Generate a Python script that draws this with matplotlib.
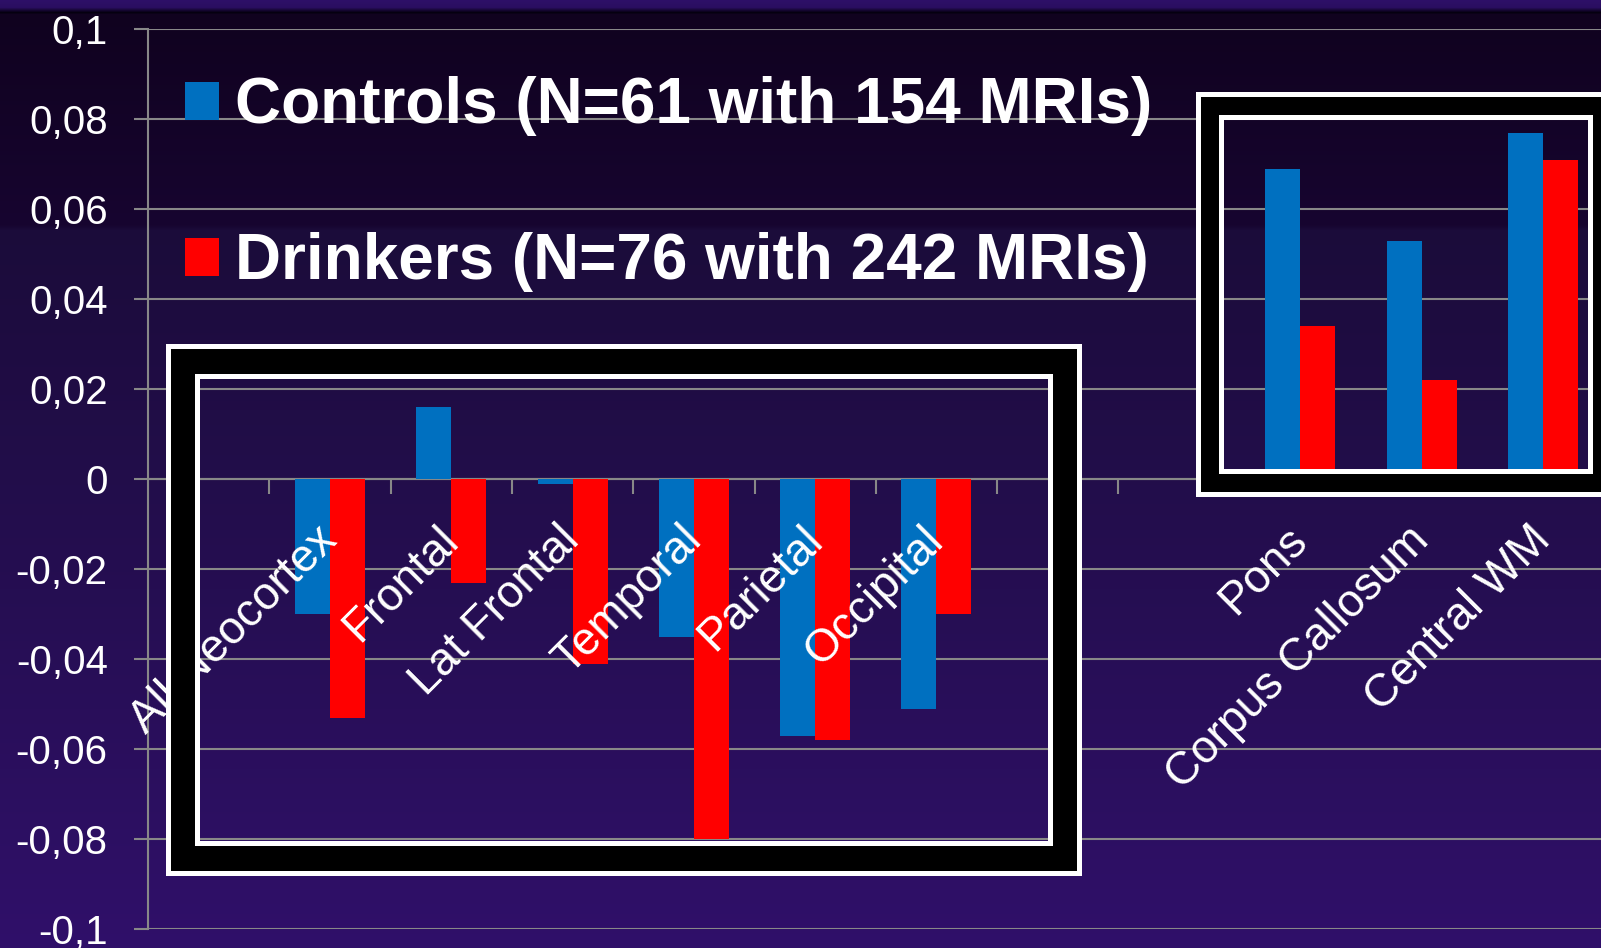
import numpy as np
import matplotlib
matplotlib.use('Agg')
import matplotlib.pyplot as plt
from matplotlib.patches import Patch, PathPatch
from matplotlib.path import Path
from matplotlib.colors import to_rgb

# regional change per year, controls vs drinkers
categories = ['', 'All Neocortex', 'Frontal', 'Lat Frontal', 'Temporal', 'Parietal',
              'Occipital', '', '', 'Pons', 'Corpus Callosum', 'Central WM']
controls = [np.nan, -0.030, 0.016, -0.001, -0.035, -0.057, -0.051,
            np.nan, np.nan, 0.069, 0.053, 0.077]
drinkers = [np.nan, -0.053, -0.023, -0.041, -0.080, -0.058, -0.030,
            np.nan, np.nan, 0.034, 0.022, 0.071]
series_names = ['Controls (N=61 with 154 MRIs)', 'Drinkers (N=76 with 242 MRIs)']
ytick_vals = [-0.1, -0.08, -0.06, -0.04, -0.02, 0, 0.02, 0.04, 0.06, 0.08, 0.1]
ytick_text = ['-0,1', '-0,08', '-0,06', '-0,04', '-0,02', '0',
              '0,02', '0,04', '0,06', '0,08', '0,1']

BLUE = '#0070C0'
RED = '#FF0000'
GRID = '#888888'
FONT = 'Liberation Sans'

W, H = 1601, 948
fig = plt.figure(figsize=(W / 100, H / 100), dpi=100)

# slide background: purple strip on top, then dark-to-purple gradient
stops = [(0, '#2e1068'), (7, '#2a0e60'), (12, '#050010'), (14, '#10021f'),
         (225, '#170530'), (230, '#1b0c3a'), (948, '#30106a')]
rows = np.arange(H)
sy = [s[0] for s in stops]
grad = np.zeros((H, 1, 3))
for c in range(3):
    grad[:, 0, c] = np.interp(rows, sy, [to_rgb(s[1])[c] for s in stops])
bg = fig.add_axes([0, 0, 1, 1], zorder=-1)
bg.imshow(grad, aspect='auto', extent=[0, 1, 0, 1], origin='upper')
bg.axis('off')

# main axes: left spine at 148px, y from 0.1 (29px) to -0.1 (929px)
LEFT = 148
PX_X = 121.3          # pixels per category
PX_Y = 900 / 0.2      # pixels per unit of y
ax = fig.add_axes([LEFT / W, (H - 929) / H, (W - LEFT) / W, 900 / H])
ax.set_facecolor('none')
x = np.arange(len(categories))
ax.set_xlim(-0.5, -0.5 + (W - LEFT) / PX_X)
ax.set_ylim(-0.1, 0.1)

bw = 0.2885
ax.bar(x - bw / 2, controls, bw, color=BLUE, zorder=3)
ax.bar(x + bw / 2, drinkers, bw, color=RED, zorder=3)

ax.set_yticks(ytick_vals)
ax.set_yticklabels(ytick_text)
ax.yaxis.grid(True, color=GRID, linewidth=1.5, zorder=0)
ax.set_axisbelow(True)
ax.tick_params(axis='y', direction='out', length=10, width=1.5, color=GRID,
               pad=19, labelcolor='white', labelsize=29)
for lab in ax.get_yticklabels():
    lab.set_fontfamily(FONT)

ax.spines['top'].set_visible(False)
ax.spines['right'].set_visible(False)
ax.spines['left'].set_color(GRID)
ax.spines['left'].set_linewidth(1.5)
ax.spines['bottom'].set_position(('data', 0))
ax.spines['bottom'].set_color(GRID)
ax.spines['bottom'].set_linewidth(1.5)
ax.set_xticks(np.arange(0.5, len(categories) - 1, 1))
ax.tick_params(axis='x', direction='out', length=11, width=1.5, color=GRID,
               labelbottom=False)

# rotated category names hanging under the zero line
for i, name in enumerate(categories):
    if name:
        ax.annotate(name, xy=(i, 0), xytext=(6.5, -45.4), textcoords='offset points',
                    rotation=45, rotation_mode='anchor', ha='right', va='baseline',
                    color='white', fontsize=33, fontfamily=FONT, zorder=4,
                    annotation_clip=False)


# framed boxes: white line, thick black band, white line; hollow inside
def ring(x0, x1, y0, y1, tx, ty, color):
    outer = [(x0, y0), (x1, y0), (x1, y1), (x0, y1), (x0, y0)]
    inner = [(x0 + tx, y0 + ty), (x0 + tx, y1 - ty), (x1 - tx, y1 - ty),
             (x1 - tx, y0 + ty), (x0 + tx, y0 + ty)]
    codes = [Path.MOVETO] + [Path.LINETO] * 3 + [Path.CLOSEPOLY]
    path = Path(outer + inner, codes + codes)
    ax.add_patch(PathPatch(path, facecolor=color, edgecolor='none', zorder=6,
                           clip_on=False))


def frame(x0, x1, y0, y1, line_px, band_px):
    # outer edges in data units; line and band widths in pixels
    lx, ly = line_px / PX_X, line_px / PX_Y
    bx, by = band_px / PX_X, band_px / PX_Y
    ring(x0, x1, y0, y1, 2 * lx + bx, 2 * ly + by, 'white')
    ring(x0 + lx, x1 - lx, y0 + ly, y1 - ly, bx, by, 'black')


frame(-0.352, 7.202, -0.0882, 0.0300, 5.0, 24.5)
frame(8.140, 11.602, -0.0039, 0.0859, 4.6, 18.4)

handles = [Patch(facecolor=BLUE), Patch(facecolor=RED)]
fig.legend(handles, series_names, loc='upper left',
           bbox_to_anchor=(185 / W, 1 - 76.5 / H), borderaxespad=0, borderpad=0,
           frameon=False, handlelength=0.53, handleheight=0.53, handletextpad=0.25,
           labelspacing=1.5, prop={'family': FONT, 'weight': 'bold', 'size': 46},
           labelcolor='white')

fig.savefig('out.png', dpi=100)
